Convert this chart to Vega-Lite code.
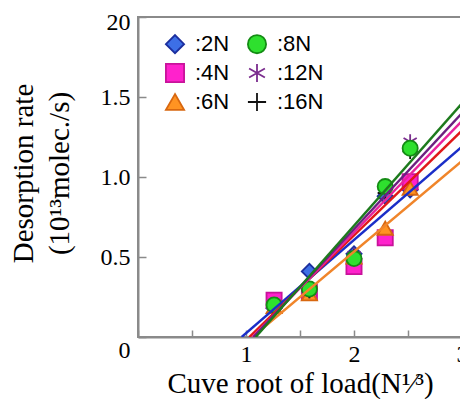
{
  "$schema": "https://vega.github.io/schema/vega-lite/v6.json",
  "width": 324,
  "height": 320,
  "autosize": {"type": "none"},
  "padding": {"left": 138, "top": 17, "right": 0, "bottom": 62},
  "background": "white",
  "config": {
    "view": {"stroke": "#8a8a8a", "strokeWidth": 2},
    "font": "Liberation Serif"
  },
  "datasets": {
    "points": [
      {"series": "2N", "x": 1.26, "y": 0.18},
      {"series": "2N", "x": 1.587, "y": 0.41},
      {"series": "2N", "x": 2.0, "y": 0.52},
      {"series": "2N", "x": 2.289, "y": 0.88},
      {"series": "2N", "x": 2.52, "y": 0.92},
      {"series": "4N", "x": 1.26, "y": 0.23},
      {"series": "4N", "x": 1.587, "y": 0.28},
      {"series": "4N", "x": 2.0, "y": 0.44},
      {"series": "4N", "x": 2.289, "y": 0.62},
      {"series": "4N", "x": 2.52, "y": 0.97},
      {"series": "6N", "x": 1.26, "y": 0.19},
      {"series": "6N", "x": 1.587, "y": 0.27},
      {"series": "6N", "x": 2.0, "y": 0.5},
      {"series": "6N", "x": 2.289, "y": 0.68},
      {"series": "6N", "x": 2.52, "y": 0.93},
      {"series": "12N", "x": 1.26, "y": 0.19},
      {"series": "12N", "x": 1.587, "y": 0.29},
      {"series": "12N", "x": 2.0, "y": 0.51},
      {"series": "12N", "x": 2.289, "y": 0.92},
      {"series": "12N", "x": 2.52, "y": 1.22},
      {"series": "16N", "x": 1.26, "y": 0.19},
      {"series": "16N", "x": 1.587, "y": 0.29},
      {"series": "16N", "x": 2.0, "y": 0.5},
      {"series": "16N", "x": 2.289, "y": 0.9},
      {"series": "16N", "x": 2.52, "y": 1.16},
      {"series": "8N", "x": 1.26, "y": 0.2},
      {"series": "8N", "x": 1.587, "y": 0.3},
      {"series": "8N", "x": 2.0, "y": 0.49},
      {"series": "8N", "x": 2.289, "y": 0.94},
      {"series": "8N", "x": 2.52, "y": 1.18}
    ],
    "fits": [
      {"series": "6N", "x": 1.06, "y": 0},
      {"series": "6N", "x": 3.0, "y": 1.1},
      {"series": "2N", "x": 0.96, "y": 0},
      {"series": "2N", "x": 3.0, "y": 1.19},
      {"series": "16N", "x": 1.03, "y": 0},
      {"series": "16N", "x": 3.0, "y": 1.29},
      {"series": "4N", "x": 1.06, "y": 0},
      {"series": "4N", "x": 3.0, "y": 1.35},
      {"series": "12N", "x": 1.07, "y": 0},
      {"series": "12N", "x": 3.0, "y": 1.4},
      {"series": "8N", "x": 1.09, "y": 0},
      {"series": "8N", "x": 3.0, "y": 1.46}
    ]
  },
  "layer": [
    {
      "data": {"name": "points"},
      "mark": {"type": "point", "opacity": 1, "strokeWidth": 1.8, "size": 230},
      "encoding": {
        "x": {
          "field": "x", "type": "quantitative",
          "scale": {"domain": [0, 3], "nice": false, "zero": false},
          "axis": {
            "values": [0, 0.5, 1, 1.5, 2, 2.5, 3],
            "labelExpr": "datum.value==1?'1':datum.value==2?'2':datum.value==3?'3':''",
            "grid": false,
            "domainColor": "#8a8a8a", "domainWidth": 2,
            "tickColor": "#8a8a8a", "tickWidth": 1.5, "tickSize": -7,
            "labelFont": "Liberation Serif", "labelFontSize": 24, "labelColor": "#000",
            "labelPadding": 12, "labelFlush": false, "labelOverlap": false,
            "title": "Cuve root of load(N¹⁄³)",
            "titleFont": "Liberation Serif", "titleFontSize": 29, "titleFontWeight": "normal",
            "titleColor": "#000", "titleBaseline": "alphabetic", "titleY": 55
          }
        },
        "y": {
          "field": "y", "type": "quantitative",
          "scale": {"domain": [0, 2], "nice": false, "zero": false},
          "axis": {
            "values": [0, 0.5, 1, 1.5, 2],
            "labelExpr": "datum.value==0?'0':datum.value==0.5?'0.5':datum.value==1?'1.0':datum.value==1.5?'1.5':'20'",
            "grid": false,
            "domainColor": "#8a8a8a", "domainWidth": 2,
            "tickColor": "#8a8a8a", "tickWidth": 1.5, "tickSize": -8,
            "labelFont": "Liberation Serif", "labelFontSize": 24, "labelColor": "#000",
            "labelPadding": 16, "labelFlush": false, "labelOverlap": false,
            "labelOffset": {"condition": [{"test": "datum.value==0", "value": 13}, {"test": "datum.value==2", "value": 5}], "value": 0},
            "title": ["Desorption rate", "(10¹³molec./s)"],
            "titleFont": "Liberation Serif", "titleFontSize": 29, "titleFontWeight": "normal",
            "titleColor": "#000", "titleLineHeight": 36, "titleAngle": -90,
            "titleAlign": "center", "titleBaseline": "top", "titleX": -129, "titleY": 156
          }
        },
        "shape": {
          "field": "series", "type": "nominal",
          "scale": {
            "domain": ["2N", "4N", "6N", "8N", "12N", "16N"],
            "range": ["diamond", "square", "triangle-up", "circle", "M0,-1L0,1M-0.87,-0.5L0.87,0.5M-0.87,0.5L0.87,-0.5", "M-1,0L1,0M0,-1L0,1"]
          },
          "legend": {
            "title": null, "orient": "none", "legendX": 26, "legendY": 16,
            "columns": 2, "columnPadding": 14, "rowPadding": 3, "padding": 0,
            "labelFont": "Liberation Sans", "labelFontSize": 22, "labelColor": "#000",
            "labelOffset": 9, "symbolSize": 330, "symbolStrokeWidth": 1.8,
            "labelExpr": "':' + datum.label"
          }
        },
        "fill": {
          "field": "series", "type": "nominal",
          "scale": {
            "domain": ["2N", "4N", "6N", "8N", "12N", "16N"],
            "range": ["#3d6fe6", "#ff22cc", "#ff9322", "#2ee02e", "#7b2d8e", "#111111"]
          },
          "legend": {
            "title": null, "orient": "none", "legendX": 26, "legendY": 16,
            "columns": 2, "columnPadding": 14, "rowPadding": 3, "padding": 0,
            "labelFont": "Liberation Sans", "labelFontSize": 22, "labelColor": "#000",
            "labelOffset": 9, "symbolSize": 330, "symbolStrokeWidth": 1.8,
            "labelExpr": "':' + datum.label"
          }
        },
        "stroke": {
          "field": "series", "type": "nominal",
          "scale": {
            "domain": ["2N", "4N", "6N", "8N", "12N", "16N"],
            "range": ["#1b2e9e", "#c8139a", "#d8670f", "#148c14", "#7b2d8e", "#111111"]
          },
          "legend": {
            "title": null, "orient": "none", "legendX": 26, "legendY": 16,
            "columns": 2, "columnPadding": 14, "rowPadding": 3, "padding": 0,
            "labelFont": "Liberation Sans", "labelFontSize": 22, "labelColor": "#000",
            "labelOffset": 9, "symbolSize": 330, "symbolStrokeWidth": 1.8,
            "labelExpr": "':' + datum.label"
          }
        }
      }
    },
    {
      "data": {"name": "fits"},
      "mark": {"type": "line", "strokeWidth": 2.4, "clip": true},
      "encoding": {
        "x": {"field": "x", "type": "quantitative"},
        "y": {"field": "y", "type": "quantitative"},
        "color": {
          "field": "series", "type": "nominal",
          "scale": {
            "domain": ["2N", "4N", "6N", "8N", "12N", "16N"],
            "range": ["#1a2ec8", "#e8249c", "#f0852a", "#1d7a1d", "#6b2080", "#e01818"]
          },
          "legend": null
        }
      }
    }
  ]
}
